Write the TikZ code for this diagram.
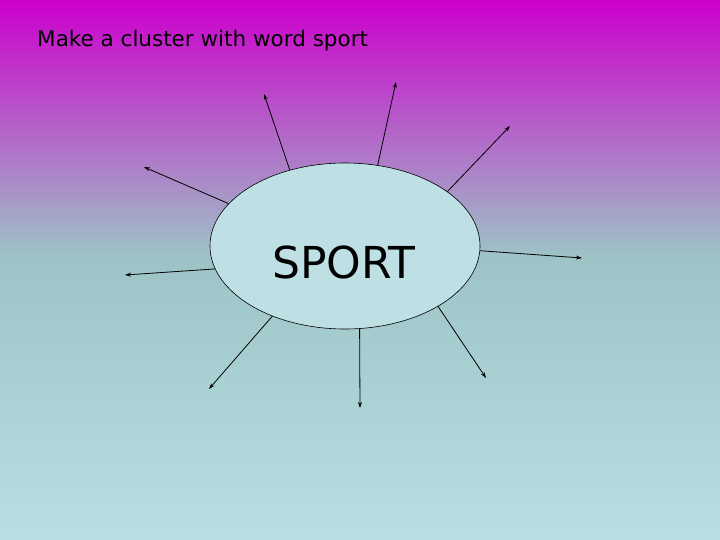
\documentclass[tikz,border=0pt]{standalone}
\usepackage{fontspec}
\setmainfont{DejaVu Sans}
\usetikzlibrary{arrows.meta,shapes.geometric}
\definecolor{topc}{HTML}{CC00CC}
\definecolor{midc}{HTML}{9DC3C6}
\definecolor{botc}{HTML}{B8E0E3}
\definecolor{ellc}{HTML}{BEE0E4}
\begin{document}
\begin{tikzpicture}[x=1pt,y=-1pt,
  arr/.style={-{Stealth[length=6pt,width=4pt]},line width=0.8pt,black}]
\useasboundingbox (0,0) rectangle (720,540);
\shade[top color=topc,bottom color=midc] (0,0) rectangle (720,255);
\shade[top color=midc,bottom color=botc] (0,254.5) rectangle (720,540);
\node[anchor=base west,inner sep=0pt,font=\fontsize{21.5}{25}\selectfont] (t) at (37,47) {Make a cluster with word sport};
\node[ellipse,draw,line width=0.6pt,fill=ellc,minimum width=270pt,minimum height=166pt,inner sep=0pt] (e) at (345,246) {};
\node[font=\fontsize{44}{50}\selectfont] (s) at (344,262) {SPORT};
\coordinate (p1) at (264,94);
\coordinate (p2) at (396,82);
\coordinate (p3) at (510,126);
\coordinate (p4) at (144,167);
\coordinate (p5) at (582,258);
\coordinate (p6) at (125,275);
\coordinate (p7) at (209,389);
\coordinate (p8) at (360,408);
\coordinate (p9) at (486,378);
\foreach \a/\p in {126/p1,68.5/p2,28/p3,160/p4,-2.5/p5,190/p6,224/p7,280/p8,327/p9} \draw[arr] (e.\a) -- (\p);
\end{tikzpicture}
\end{document}
